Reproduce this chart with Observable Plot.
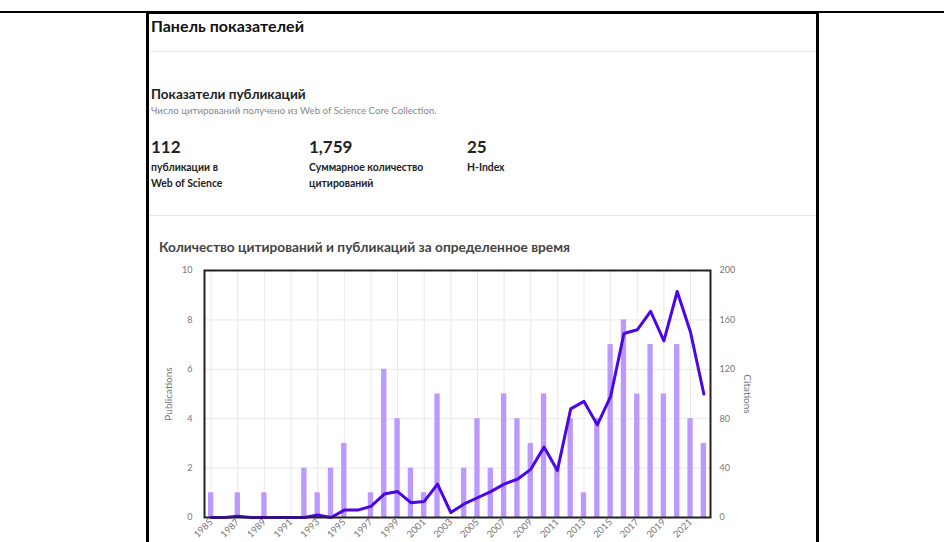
<!DOCTYPE html>
<html>
<head>
<meta charset="utf-8">
<script src="https://cdn.jsdelivr.net/npm/d3@7"></script>
<script src="https://cdn.jsdelivr.net/npm/@observablehq/plot@0.6"></script>
<style>
  html, body { margin: 0; padding: 0; background: #fff; }
  body { width: 944px; height: 542px; overflow: hidden; position: relative; font-family: Lato, "Open Sans", sans-serif; color: #222; }
  .abs { position: absolute; white-space: nowrap; }
  #topline { position: absolute; left: 0; top: 11px; width: 944px; height: 2px; background: #000; }
  #panel { position: absolute; left: 146px; top: 11px; width: 667px; height: 560px; border: 3px solid #000; border-bottom: none; }
  .divider { position: absolute; left: 150px; width: 666px; height: 1px; background: #e4e4e4; }
  #chart { position: absolute; left: 150px; top: 258px; }
</style>
</head>
<body>
<div id="topline"></div>
<div id="panel"></div>
<div class="abs" style="left:151px; top:16px; font-size:16px; font-weight:700; color:#111;">Панель показателей</div>
<div class="divider" style="top:51px;"></div>
<div class="abs" style="left:151px; top:86px; font-size:13.5px; font-weight:700; color:#222;">Показатели публикаций</div>
<div class="abs" style="left:151px; top:104px; font-size:9.7px; color:#888;">Число цитирований получено из Web of Science Core Collection.</div>
<div id="metrics"></div>
<div class="divider" style="top:215px;"></div>
<div class="abs" style="left:159px; top:238px; font-size:13.7px; font-weight:700; color:#444;">Количество цитирований и публикаций за определенное время</div>
<div id="chart"></div>
<script>
const years = d3.range(1985, 2023);
const publications = [1,0,1,0,1,0,0,2,1,2,3,0,1,6,4,2,1,5,0,2,4,2,5,4,3,5,2,4,1,4,7,8,5,7,5,7,4,3];
const citations = [0,0,1,0,0,0,0,0,2,0,6,6,9,19,21,12,13,27,4,11,16,21,27,31,39,57,38,88,94,75,98,149,152,167,143,183,150,100];
const metricValues = ["112", "1,759", "25"];
const metricLabels = [["публикации в", "Web of Science"], ["Суммарное количество", "цитирований"], ["H-Index"]];
const pubTicks = [0, 2, 4, 6, 8, 10];
const citeFactor = 20;

const metricX = [151, 309, 467];
const metrics = document.getElementById("metrics");
metricValues.forEach((v, i) => {
  const a = document.createElement("div");
  a.className = "abs";
  a.style.cssText = `left:${metricX[i]}px; top:136px; font-size:17px; font-weight:700; color:#222;`;
  a.textContent = v;
  metrics.appendChild(a);
  const b = document.createElement("div");
  b.className = "abs";
  b.style.cssText = `left:${metricX[i]}px; top:159px; font-size:10.4px; font-weight:700; line-height:16px; color:#222;`;
  b.innerHTML = metricLabels[i].join("<br>");
  metrics.appendChild(b);
});

const data = years.map((y, i) => ({year: y, pubs: publications[i], cites: citations[i]}));
const oddYears = years.filter(y => y % 2 === 1);

const chart = Plot.plot({
  width: 660,
  height: 284,
  marginLeft: 54,
  marginRight: 100,
  marginTop: 12,
  marginBottom: 25,
  style: {fontFamily: "Lato, sans-serif", fontSize: "9px", color: "#777", background: "transparent", overflow: "visible"},
  x: {type: "band", domain: years, paddingInner: 0.6, paddingOuter: 0.3, round: false, label: null},
  y: {domain: [0, 10], label: null},
  marks: [
    Plot.gridX(oddYears, {stroke: "#e8e8e8", strokeOpacity: 1}),
    Plot.gridY([2, 4, 6, 8], {stroke: "#e8e8e8", strokeOpacity: 1}),
    Plot.barY(data, {x: "year", y: "pubs", fill: "#bb99ff"}),
    Plot.lineY(data, {x: "year", y: d => d.cites / citeFactor, stroke: "#4a06e8", strokeWidth: 3, curve: "linear"}),
    Plot.frame({stroke: "#222", strokeWidth: 2}),
    Plot.axisX({ticks: oddYears, tickFormat: d => String(d), tickRotate: -45, tickSize: 0, tickPadding: 3, label: null, fill: "#777", fontSize: 9.5}),
    Plot.axisY({ticks: pubTicks, tickSize: 0, tickPadding: 12, label: null, fill: "#777"}),
    Plot.axisY({anchor: "right", ticks: pubTicks, tickFormat: d => String(d * citeFactor), tickSize: 0, tickPadding: 9, label: null, fill: "#777"}),
    Plot.text(["Publications"], {text: d => d, frameAnchor: "left", textAnchor: "middle", dx: -36, rotate: -90, fill: "#777", fontSize: 10}),
    Plot.text(["Citations"], {text: d => d, frameAnchor: "right", textAnchor: "middle", dx: 37, rotate: 90, fill: "#777", fontSize: 10})
  ]
});
document.getElementById("chart").appendChild(chart);
</script>
</body>
</html>
